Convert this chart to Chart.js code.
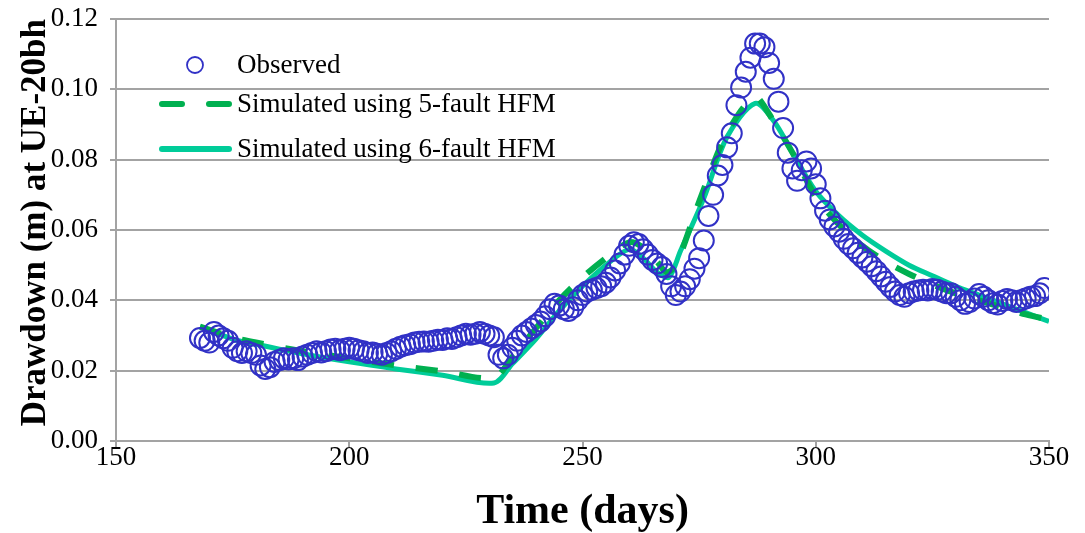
<!DOCTYPE html>
<html>
<head>
<meta charset="utf-8">
<script src="https://cdn.jsdelivr.net/npm/chart.js@4.4.1/dist/chart.umd.min.js"></script>
<style>
  html, body { margin: 0; padding: 0; background: #fff; }
  #wrap { width: 1085px; height: 533px; }
</style>
</head>
<body>
<div id="wrap"><canvas id="drawdownChart" width="1085" height="533"></canvas></div>
<script>
// Drawdown at UE-20bh: daily observed values against the 5-fault and
// 6-fault HFM simulations.

const OBS_FIRST_DAY = 168; // one observation per day from here on
const OBS_DRAWDOWN = [
  0.0293, 0.0285, 0.0280, 0.0310, 0.0300, 0.0292, 0.0285, 0.0265, 0.0255, 0.0250,
  0.0255, 0.0250, 0.0245, 0.0215, 0.0205, 0.0210, 0.0225, 0.0230, 0.0235, 0.0232,
  0.0235, 0.0230, 0.0240, 0.0245, 0.0250, 0.0255, 0.0252, 0.0255, 0.0260, 0.0262,
  0.0258, 0.0262, 0.0265, 0.0262, 0.0258, 0.0255, 0.0250, 0.0252, 0.0248, 0.0245,
  0.0250, 0.0255, 0.0262, 0.0268, 0.0272, 0.0275, 0.0280, 0.0282, 0.0283, 0.0282,
  0.0285, 0.0288, 0.0287, 0.0292, 0.0290, 0.0295, 0.0300, 0.0305, 0.0302, 0.0305,
  0.0310, 0.0305, 0.0300, 0.0295, 0.0245, 0.0235, 0.0245, 0.0265, 0.0285, 0.0300,
  0.0310, 0.0320, 0.0330, 0.0340, 0.0355, 0.0375, 0.0390, 0.0385, 0.0375, 0.0370,
  0.0380, 0.0400, 0.0415, 0.0425, 0.0430, 0.0435, 0.0440, 0.0450, 0.0465, 0.0485,
  0.0505, 0.0530, 0.0555, 0.0565, 0.0560, 0.0545, 0.0530, 0.0515, 0.0505, 0.0495,
  0.0475, 0.0440, 0.0415, 0.0425, 0.0440, 0.0460, 0.0490, 0.0520, 0.0570, 0.0640,
  0.0700, 0.0755, 0.0785, 0.0835, 0.0875, 0.0955, 0.1005, 0.1050, 0.1090, 0.1130,
  0.1130, 0.1120, 0.1075, 0.1030, 0.0965, 0.0890, 0.0820, 0.0775, 0.0740, 0.0770,
  0.0795, 0.0775, 0.0730, 0.0690, 0.0655, 0.0630, 0.0610, 0.0595, 0.0575, 0.0560,
  0.0548, 0.0535, 0.0522, 0.0510, 0.0497, 0.0483, 0.0468, 0.0453, 0.0438, 0.0425,
  0.0415, 0.0410, 0.0420, 0.0425, 0.0428, 0.0430, 0.0428, 0.0432, 0.0430, 0.0425,
  0.0420, 0.0420, 0.0410, 0.0400, 0.0390, 0.0395, 0.0405, 0.0418, 0.0410, 0.0400,
  0.0392, 0.0388, 0.0398, 0.0404, 0.0400, 0.0395, 0.0400, 0.0405, 0.0410, 0.0412,
  0.0420, 0.0435,
];

const SIM5_DAYS = [168, 175, 180, 190, 200, 210, 220, 231, 235, 240, 245, 250, 255, 260,
  263, 266, 268, 270, 275, 280, 284, 287, 288, 290, 295, 300, 305, 310, 315, 320, 325,
  330, 335, 340, 345, 350];
const SIM5_DRAWDOWN = [0.0325, 0.0295, 0.0280, 0.0255, 0.0235, 0.0215, 0.0198, 0.0180,
  0.0240, 0.0320, 0.0400, 0.0465, 0.0520, 0.0565, 0.0550, 0.0510, 0.0480, 0.0500, 0.0680,
  0.0850, 0.0940, 0.0980, 0.0970, 0.0930, 0.0820, 0.0695, 0.0615, 0.0555, 0.0510, 0.0475,
  0.0445, 0.0420, 0.0400, 0.0380, 0.0360, 0.0345];

const SIM6_DAYS = [168, 175, 180, 190, 200, 210, 220, 231, 235, 240, 245, 250, 255, 260,
  263, 266, 268.5, 271, 276, 281, 287, 291, 295, 300, 305, 310, 315, 320, 325, 330, 335,
  340, 345, 350];
const SIM6_DRAWDOWN = [0.0325, 0.0290, 0.0275, 0.0248, 0.0225, 0.0205, 0.0187, 0.0165,
  0.0220, 0.0290, 0.0370, 0.0440, 0.0500, 0.0545, 0.0520, 0.0480, 0.0465, 0.0540, 0.0690,
  0.0865, 0.0960, 0.0910, 0.0820, 0.0710, 0.0640, 0.0585, 0.0540, 0.0500, 0.0470, 0.0440,
  0.0415, 0.0390, 0.0365, 0.0340];

const X_TICKS = [150, 200, 250, 300, 350];
const Y_TICKS = [0, 0.02, 0.04, 0.06, 0.08, 0.10, 0.12];

const COLORS = {
  observed: "#3131c6",
  sim5: "#00b050",
  sim6: "#00cc99",
  grid: "#a3a3a3",
  text: "#000000",
};
const SERIF = "'Liberation Serif', 'Times New Roman', serif";

const toPoints = (xs, ys) => xs.map((x, i) => ({ x, y: ys[i] }));
const observedPoints = OBS_DRAWDOWN.map((y, i) => ({ x: OBS_FIRST_DAY + i, y }));

// Legend sits inside the plot, top left, like the spreadsheet original.
const insideLegend = {
  id: "insideLegend",
  afterDatasetsDraw(chart) {
    const { ctx } = chart;
    const textX = 237;
    const rows = [
      { y: 65, label: "Observed", kind: "marker" },
      { y: 104, label: "Simulated using 5-fault HFM", kind: "dash" },
      { y: 149, label: "Simulated using 6-fault HFM", kind: "line" },
    ];
    ctx.save();
    rows.forEach((r) => {
      if (r.kind === "marker") {
        ctx.beginPath();
        ctx.arc(195, r.y, 8, 0, Math.PI * 2);
        ctx.lineWidth = 1.8;
        ctx.strokeStyle = COLORS.observed;
        ctx.stroke();
      } else {
        ctx.beginPath();
        ctx.lineWidth = 6;
        ctx.lineCap = "round";
        ctx.strokeStyle = r.kind === "dash" ? COLORS.sim5 : COLORS.sim6;
        if (r.kind === "dash") {
          ctx.moveTo(162, r.y); ctx.lineTo(182, r.y);
          ctx.moveTo(209, r.y); ctx.lineTo(229, r.y);
        } else {
          ctx.moveTo(162, r.y); ctx.lineTo(229, r.y);
        }
        ctx.stroke();
      }
      ctx.fillStyle = COLORS.text;
      ctx.font = "27px " + SERIF;
      ctx.textBaseline = "middle";
      ctx.fillText(r.label, textX, r.y + 1);
    });
    ctx.restore();
  },
};

// keep the plot box fixed; label overhang is handled by layout padding
const noLabelPadding = (s) => {
  s.paddingTop = 0; s.paddingBottom = 0; s.paddingLeft = 0; s.paddingRight = 0;
};

new Chart(document.getElementById("drawdownChart"), {
  type: "scatter",
  data: {
    datasets: [
      {
        label: "Observed",
        data: observedPoints,
        pointStyle: "circle",
        pointRadius: 10,
        pointBorderWidth: 2,
        borderColor: COLORS.observed,
        backgroundColor: "rgba(0,0,0,0)",
        showLine: false,
      },
      {
        label: "Simulated using 5-fault HFM",
        data: toPoints(SIM5_DAYS, SIM5_DRAWDOWN),
        showLine: true,
        pointRadius: 0,
        borderColor: COLORS.sim5,
        borderWidth: 6,
        borderDash: [22, 22],
        tension: 0.3,
      },
      {
        label: "Simulated using 6-fault HFM",
        data: toPoints(SIM6_DAYS, SIM6_DRAWDOWN),
        showLine: true,
        pointRadius: 0,
        borderColor: COLORS.sim6,
        borderWidth: 5,
        tension: 0.3,
      },
    ],
  },
  options: {
    responsive: false,
    animation: false,
    events: [],
    layout: { padding: { top: 19, right: 36, left: 0, bottom: 0 } },
    plugins: { legend: { display: false }, tooltip: { enabled: false } },
    scales: {
      x: {
        type: "linear",
        min: 150,
        max: 350,
        afterBuildTicks: (s) => { s.ticks = X_TICKS.map((v) => ({ value: v })); },
        afterFit: (s) => { s.height = 92; noLabelPadding(s); },
        ticks: { color: COLORS.text, font: { family: SERIF, size: 27 }, padding: -5, maxRotation: 0 },
        grid: { display: true, drawOnChartArea: false, color: COLORS.grid, lineWidth: 2, tickLength: 6 },
        border: { color: COLORS.grid, width: 2 },
        title: {
          display: true,
          text: "Time (days)",
          color: COLORS.text,
          font: { family: SERIF, size: 42, weight: "bold", lineHeight: 1 },
          padding: { top: 0, bottom: 0 },
        },
      },
      y: {
        min: 0,
        max: 0.12,
        afterBuildTicks: (s) => { s.ticks = Y_TICKS.map((v) => ({ value: v })); },
        afterFit: (s) => { s.width = 116; noLabelPadding(s); },
        ticks: {
          color: COLORS.text,
          font: { family: SERIF, size: 27 },
          padding: 12,
          callback: (v) => v.toFixed(2),
        },
        grid: { color: COLORS.grid, lineWidth: 2, tickLength: 6 },
        border: { color: COLORS.grid, width: 2 },
        title: {
          display: true,
          text: "Drawdown (m) at UE-20bh",
          align: "end",
          color: COLORS.text,
          font: { family: SERIF, size: 35, weight: "bold", lineHeight: 1 },
          padding: { top: 18, bottom: 0 },
        },
      },
    },
  },
  plugins: [insideLegend],
});
</script>
</body>
</html>
